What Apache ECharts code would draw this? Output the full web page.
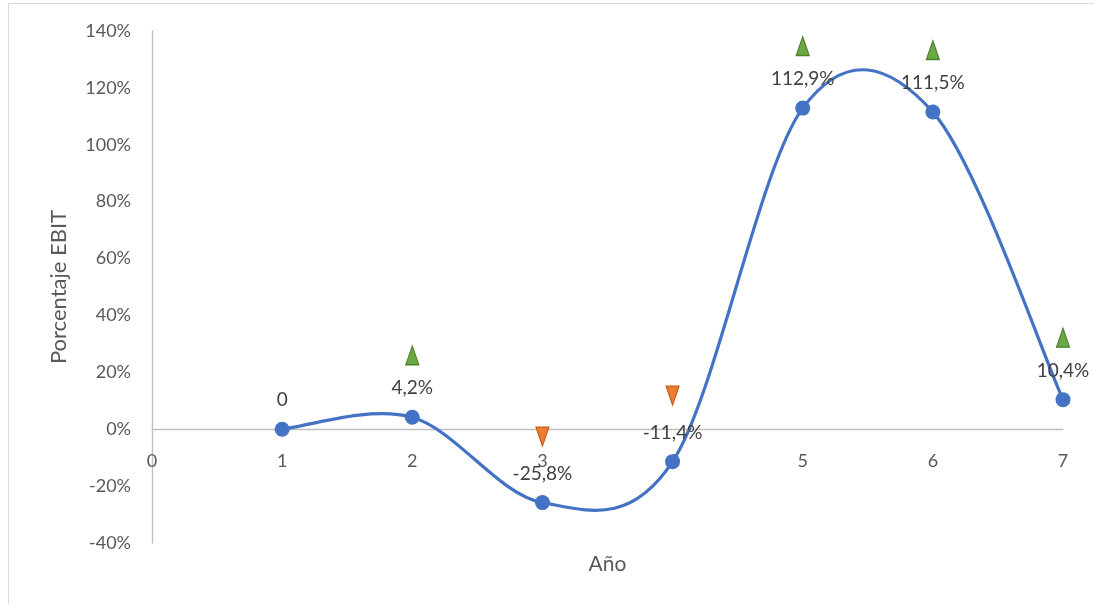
<!DOCTYPE html>
<html>
<head>
<meta charset="utf-8">
<script src="https://cdn.jsdelivr.net/npm/echarts@6/dist/echarts.min.js"></script>
<style>
  html, body { margin: 0; padding: 0; background: #ffffff; }
  #chart { width: 1094px; height: 604px; }
</style>
</head>
<body>
<div id="chart"></div>
<script>
// EBIT percentage by year
const years = [1, 2, 3, 4, 5, 6, 7];
const ebit = [0, 0.042, -0.258, -0.114, 1.129, 1.115, 0.104];
const pointLabels = ['0', '4,2%', '-25,8%', '-11,4%', '112,9%', '111,5%', '10,4%'];
const yTicks = { min: -0.4, max: 1.4, step: 0.2 };
const xTicks = { min: 0, max: 7, step: 1 };

const FONT = 'Lato, "Open Sans", sans-serif';
const BLUE = '#4472c4';
const pointData = years.map((x, i) => [x, ebit[i]]);

// trend markers: up (green) for positive values, down (orange) for negative, none for zero
const upData = [];
const downData = [];
years.forEach((x, i) => {
  if (ebit[i] > 0) upData.push([x, ebit[i]]);
  else if (ebit[i] < 0) downData.push([x, ebit[i]]);
});

// Smoothed connector: one cubic Bezier per segment, Catmull-Rom style control points
function renderSegment(params, api) {
  const i = params.dataIndex;
  const n = years.length;
  if (i >= n - 1) return null;
  const clampIdx = j => Math.max(0, Math.min(n - 1, j));
  const pt = j => api.coord([years[clampIdx(j)], ebit[clampIdx(j)]]);
  const p0 = pt(i - 1), p1 = pt(i), p2 = pt(i + 1), p3 = pt(i + 2);
  return {
    type: 'bezierCurve',
    shape: {
      x1: p1[0], y1: p1[1],
      cpx1: p1[0] + (p2[0] - p0[0]) / 6, cpy1: p1[1] + (p2[1] - p0[1]) / 6,
      cpx2: p2[0] - (p3[0] - p1[0]) / 6, cpy2: p2[1] - (p3[1] - p1[1]) / 6,
      x2: p2[0], y2: p2[1]
    },
    style: { fill: null, stroke: BLUE, lineWidth: 3.2, lineCap: 'round' },
    silent: true
  };
}

const chart = echarts.init(document.getElementById('chart'), null, { renderer: 'canvas' });
chart.setOption({
  backgroundColor: '#ffffff',
  animation: false,
  textStyle: { fontFamily: FONT },
  graphic: [{
    type: 'rect',
    shape: { x: 8.5, y: 3.5, width: 1100, height: 620 },
    style: { fill: 'none', stroke: '#d9d9d9', lineWidth: 1 },
    silent: true,
    z: -10
  }],
  grid: { left: 152, right: 31, top: 31, bottom: 61, containLabel: false, outerBoundsMode: 'none' },
  xAxis: {
    type: 'value',
    min: xTicks.min,
    max: xTicks.max,
    interval: xTicks.step,
    offset: -114,
    name: 'Año',
    nameLocation: 'middle',
    nameGap: 125,
    nameTextStyle: { color: '#595959', fontSize: 21, fontFamily: FONT },
    axisLine: { onZero: false, lineStyle: { color: '#bfbfbf', width: 1.3 } },
    axisTick: { show: false },
    splitLine: { show: false },
    axisLabel: { color: '#595959', fontSize: 18, margin: 23, fontFamily: FONT }
  },
  yAxis: {
    type: 'value',
    min: yTicks.min,
    max: yTicks.max,
    interval: yTicks.step,
    name: 'Porcentaje EBIT',
    nameLocation: 'middle',
    nameGap: 82,
    nameRotate: 90,
    nameTextStyle: { color: '#595959', fontSize: 22, fontFamily: FONT },
    axisLine: { show: true, onZero: false, lineStyle: { color: '#bfbfbf', width: 1.3 } },
    axisTick: { show: false },
    splitLine: { show: false },
    axisLabel: {
      color: '#595959', fontSize: 18, margin: 21, fontFamily: FONT,
      formatter: v => Math.round(v * 100) + '%'
    }
  },
  series: [
    {
      name: 'curve',
      type: 'custom',
      data: pointData,
      renderItem: renderSegment,
      clip: false,
      z: 2
    },
    {
      name: 'EBIT',
      type: 'scatter',
      data: pointData,
      symbol: 'circle',
      symbolSize: 15,
      itemStyle: { color: BLUE, opacity: 1 },
      label: {
        show: true,
        position: 'top',
        distance: 12,
        color: '#404040',
        fontSize: 19,
        fontFamily: FONT,
        formatter: p => pointLabels[p.dataIndex]
      },
      z: 3
    },
    {
      name: 'up',
      type: 'scatter',
      data: upData,
      symbol: 'triangle',
      symbolSize: [13, 19],
      symbolOffset: [0, -62],
      itemStyle: { color: '#6aa843', borderColor: '#4e7f2f', borderWidth: 1.2, opacity: 1 },
      z: 4
    },
    {
      name: 'down',
      type: 'scatter',
      data: downData,
      symbol: 'triangle',
      symbolRotate: 180,
      symbolSize: [13, 19],
      symbolOffset: [0, -66],
      itemStyle: { color: '#ed7d31', borderColor: '#c55a11', borderWidth: 1.2, opacity: 1 },
      z: 4
    }
  ]
});
</script>
</body>
</html>
